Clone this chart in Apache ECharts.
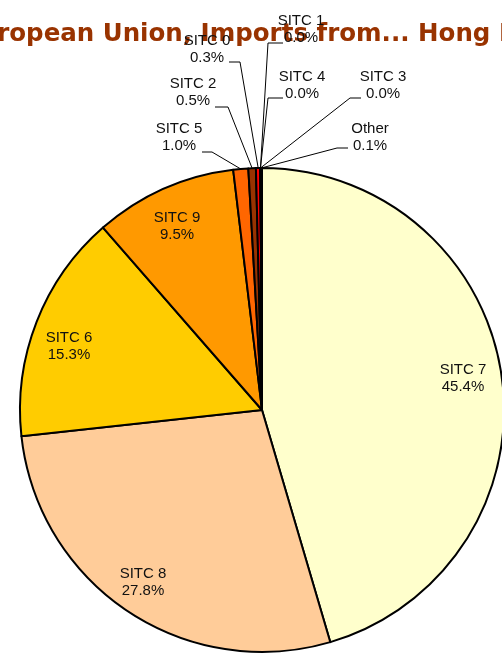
<!DOCTYPE html>
<html>
<head>
<meta charset="utf-8">
<script src="https://cdn.jsdelivr.net/npm/echarts@6/dist/echarts.min.js"></script>
<style>
  html, body { margin: 0; padding: 0; background: #fff; }
  #chart { width: 502px; height: 660px; }
</style>
</head>
<body>
<div id="chart"></div>
<script>
// data, clockwise from 12 o'clock
const categories = ['SITC 7', 'SITC 8', 'SITC 6', 'SITC 9', 'SITC 5', 'SITC 2', 'SITC 0', 'SITC 1', 'SITC 4', 'SITC 3', 'Other']
const shares = [45.4, 27.8, 15.3, 9.5, 1.0, 0.5, 0.3, 0.0, 0.0, 0.0, 0.1]
const colors = ['#FFFFCC', '#FFCC99', '#FFCC00', '#FF9900', '#FF6600', '#993300', '#FF0000', '#CC0000', '#660000', '#330000', '#000000']

// label placement (pixel centres) and leader knees for the small slices
const labelPos = [
  [463, 378], [143, 582], [69, 346], [177, 226],
  [179, 137], [193, 92], [207, 49], [301, 29], [302, 85], [383, 85], [370, 137]
]
// [kneeX, kneeY, endX] or null when label sits inside its slice
const leaders = [
  null, null, null, null,
  [212, 152, 202], [228, 107, 215], [240, 62, 229],
  [268, 43, 283], [268, 98, 283], [350, 98, 361], [337, 148, 348]
]

const chart = echarts.init(document.getElementById('chart'), null, { renderer: 'canvas' })

chart.setOption({
  animation: false,
  title: {
    text: 'European Union, Imports from... Hong Kong',
    left: -42,
    top: 17,
    z: 1,
    textStyle: {
      color: '#993300',
      fontFamily: 'DejaVu Sans',
      fontWeight: 'bold',
      fontSize: 24.5
    }
  },
  series: [{
    type: 'pie',
    z: 3,
    center: [262, 410],
    radius: 242,
    startAngle: 90,
    clockwise: true,
    avoidLabelOverlap: false,
    itemStyle: { borderColor: '#000', borderWidth: 2 },
    label: {
      show: true,
      position: 'outside',
      color: '#111',
      fontFamily: 'Liberation Sans',
      fontSize: 15,
      lineHeight: 17,
      formatter: p => p.name + '\n' + p.value.toFixed(1) + '%'
    },
    labelLine: { show: true, lineStyle: { color: '#000', width: 1 } },
    labelLayout: params => {
      const i = params.dataIndex
      const [x, y] = labelPos[i]
      const out = { x, y, align: 'center', verticalAlign: 'middle' }
      const l = leaders[i]
      if (l && params.labelLinePoints) {
        const a = params.labelLinePoints[0]
        out.labelLinePoints = [a, [l[0], l[1]], [l[2], l[1]]]
      }
      return out
    },
    emphasis: { disabled: true },
    data: categories.map((name, i) => ({
      name,
      value: shares[i],
      itemStyle: { color: colors[i] },
      labelLine: { show: leaders[i] !== null }
    }))
  }]
})
</script>
</body>
</html>
